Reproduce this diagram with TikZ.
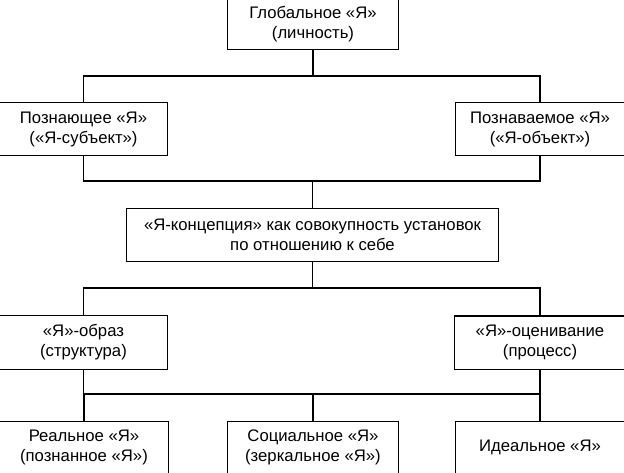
\documentclass[tikz,border=0pt]{standalone}
\usepackage{fontspec}
\setmainfont{Liberation Sans}
\begin{document}
\begin{tikzpicture}[x=1pt,y=-1pt,line width=1.4pt,line join=miter,
  box/.style={draw=none,inner sep=0pt,align=center,
    font=\fontsize{16.7}{20}\selectfont,minimum height=52pt}]
\useasboundingbox (0,0) rectangle (624,473);
\clip (0,0) rectangle (624,473);
\fill[white] (0,0) rectangle (624,473);
% nodes
\node[box,minimum width=170pt,minimum height=49pt] (G) at (313,24.5) {Глобальное «Я»\\(личность)};
\node[box,minimum width=167pt] (P1) at (83.5,129) {Познающее «Я»\\(«Я-субъект»)};
\node[box,minimum width=168pt] (P2) at (540,129) {Познаваемое «Я»\\(«Я-объект»)};
\node[box,minimum width=371pt] (K) at (312.5,235) {«Я-концепция» как совокупность установок\\по отношению к себе};
\node[box,minimum width=167pt,minimum height=53pt] (O) at (83.5,342.5) {«Я»-образ\\(структура)};
\node[box,minimum width=170pt] (E) at (540,342.5) {«Я»-оценивание\\(процесс)};
\node[box,minimum width=168pt,minimum height=51pt] (R) at (84,447.5) {Реальное «Я»\\(познанное «Я»)};
\node[box,minimum width=170pt,minimum height=51pt] (S) at (313,447.5) {Социальное «Я»\\(зеркальное «Я»)};
\node[box,minimum width=168pt,minimum height=51pt] (I) at (540,447.5) {Идеальное «Я»};
% box outlines (clipped at the picture edge)
\draw ([yshift=10pt]G.north west) |- (G.south east) -- ([yshift=10pt]G.north east);
\draw ([xshift=-10pt]P1.north west) -| (P1.south east) -- ([xshift=-10pt]P1.south west);
\draw ([xshift=10pt]P2.north east) -| (P2.south west) -- ([xshift=10pt]P2.south east);
\draw (K.north west) rectangle (K.south east);
\draw ([xshift=-10pt]O.north west) -| (O.south east) -- ([xshift=-10pt]O.south west);
\draw ([xshift=10pt]E.north east) -| (E.south west) -- ([xshift=10pt]E.south east);
\draw ([xshift=-10pt]R.north west) -| ([yshift=-10pt]R.south east);
\draw ([yshift=-10pt]S.south west) |- (S.north east) -- ([yshift=-10pt]S.south east);
\draw ([yshift=-10pt]I.south west) |- ([xshift=10pt]I.north east);
% connector levels
\coordinate (h1) at (0,76);
\coordinate (h2) at (0,181);
\coordinate (h3) at (0,288);
\coordinate (h4) at (0,394);
% connectors
\draw (G.south) -- (G.south |- h1);
\draw (P1.north) -- (P1.north |- h1) -- (P2.north |- h1) -- (P2.north);
\draw (P1.south) -- (P1.south |- h2) -- (P2.south |- h2) -- (P2.south);
\draw (K.north) -- (K.north |- h2);
\draw (K.south) -- (K.south |- h3);
\draw (O.north) -- (O.north |- h3) -- (E.north |- h3) -- (E.north);
\draw (O.south) -- (O.south |- h4) -- (E.south |- h4) -- (E.south);
\draw (R.north) -- (R.north |- h4);
\draw (S.north) -- (S.north |- h4);
\draw (I.north) -- (I.north |- h4);
\end{tikzpicture}
\end{document}
